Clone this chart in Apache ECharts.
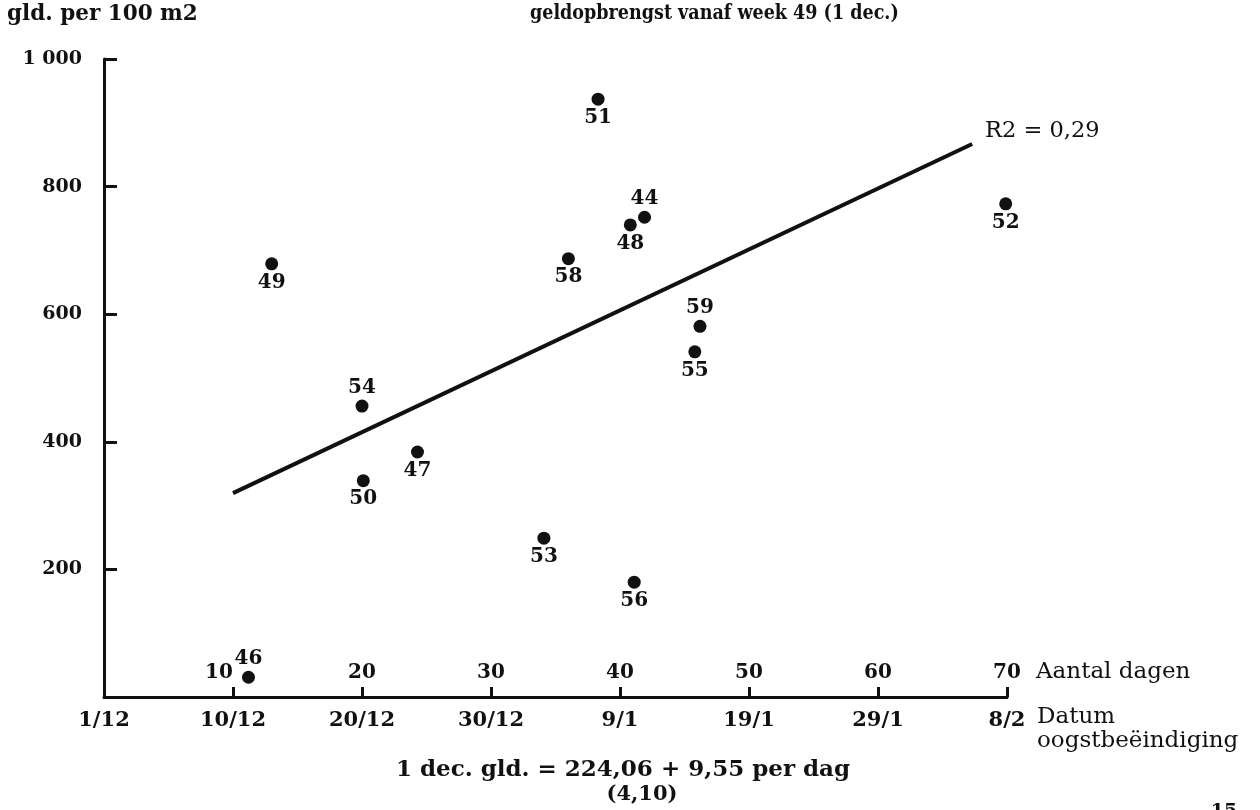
<!DOCTYPE html>
<html>
<head>
<meta charset="utf-8">
<script src="https://cdn.jsdelivr.net/npm/echarts@6/dist/echarts.min.js"></script>
<style>
  html, body { margin: 0; padding: 0; background: #fff; }
  #chart { width: 1260px; height: 810px; }
</style>
</head>
<body>
<div id="chart"></div>
<script>
// Plantnummers, aantal dagen na 1 december en geldopbrengst (gld. per 100 m2)
const plantIds = ['46', '49', '54', '50', '47', '53', '58', '51', '48', '44', '56', '59', '55', '57', '52'];
const days     = [11.2, 13.0, 20.0, 20.1, 24.3, 34.1, 36.0, 38.3, 40.8, 41.9, 41.1, 46.2, 45.8, 53.2, 69.9];
const revenue  = [31, 679, 456, 339, 384, 249, 687, 937, 740, 752, 180, 581, 541, 1011, 773];

// Nummers die boven hun punt staan
const labelsAbove = ['46', '54', '44', '59'];

// Regressielijn: gld. = 224,06 + 9,55 per dag
const intercept = 224.06;
const slope = 9.55;
const lineDays = [10, 67.3];

// As-labels
const dayTicks = [10, 20, 30, 40, 50, 60, 70];
const dateTicks = ['1/12', '10/12', '20/12', '30/12', '9/1', '19/1', '29/1', '8/2'];
const yTicks = [200, 400, 600, 800, 1000];

const FONT = 'DejaVu Serif';
const FONT_NARROW = '"DejaVu Serif Condensed", "DejaVu Serif"';
const INK = '#111';

const chart = echarts.init(document.getElementById('chart'), null, { renderer: 'canvas' });

const points = plantIds.map((id, i) => ({
  value: [days[i], revenue[i]],
  name: id,
  label: { position: labelsAbove.includes(id) ? 'top' : 'bottom' }
}));

chart.setOption({
  animation: false,
  backgroundColor: '#fff',
  grid: { left: 104, right: 253, top: 59, bottom: 113, containLabel: false },
  xAxis: [
    {
      // datum oogstbeëindiging onder de as
      type: 'value', min: 0, max: 70, interval: 10, position: 'bottom',
      splitLine: { show: false },
      axisLine: { lineStyle: { color: INK, width: 3 } },
      axisTick: { show: false },
      axisLabel: {
        margin: 13, color: INK, fontFamily: FONT, fontWeight: 'bold', fontSize: 21,
        formatter: v => dateTicks[Math.round(v / 10)] || ''
      }
    },
    {
      // aantal dagen boven de as
      type: 'value', min: 0, max: 70, interval: 10, position: 'bottom',
      splitLine: { show: false },
      axisLine: { show: false },
      axisTick: { show: true, inside: true, length: 10, lineStyle: { color: INK, width: 3 } },
      axisLabel: {
        inside: true, margin: 14, color: INK, fontFamily: FONT, fontWeight: 'bold', fontSize: 20,
        formatter: v => {
          if (!dayTicks.includes(v)) return '';
          return v === dayTicks[0] ? '{l|' + v + '}' : String(v);
        },
        rich: { l: { padding: [0, 28, 0, 0], fontFamily: FONT, fontWeight: 'bold', fontSize: 20, color: INK } }
      }
    }
  ],
  yAxis: {
    type: 'value', min: 0, max: 1000, interval: 200,
    splitLine: { show: false },
    axisLine: { lineStyle: { color: INK, width: 3 } },
    axisTick: { show: true, inside: true, length: 13, lineStyle: { color: INK, width: 3 } },
    axisLabel: {
      margin: 22, color: INK, fontFamily: FONT, fontWeight: 'bold', fontSize: 19,
      formatter: v => yTicks.includes(v) ? (v === 1000 ? '1 000' : String(v)) : ''
    }
  },
  series: [
    {
      type: 'line',
      xAxisIndex: 0,
      data: lineDays.map(d => [d, intercept + slope * d]),
      symbol: 'none',
      lineStyle: { color: INK, width: 4 },
      silent: true,
      z: 2
    },
    {
      type: 'scatter',
      xAxisIndex: 0,
      data: points,
      symbol: 'circle',
      symbolSize: 13,
      itemStyle: { color: INK, opacity: 1 },
      label: {
        show: true, distance: 2, formatter: p => p.name, opacity: 1,
        color: INK, fontFamily: FONT, fontWeight: 'bold', fontSize: 20
      },
      z: 3
    }
  ],
  graphic: [
    { type: 'text', x: 7, y: 14,
      style: { text: 'gld. per 100 m2', fontFamily: FONT, fontWeight: 'bold', fontSize: 21.5, fill: INK,
               verticalAlign: 'middle' } },
    { type: 'text', x: 530, y: 14,
      style: { text: 'geldopbrengst vanaf week 49 (1 dec.)', fontFamily: FONT_NARROW, fontWeight: 'bold', fontSize: 19.5, fill: INK,
               verticalAlign: 'middle' } },
    { type: 'text', x: 985, y: 131,
      style: { text: 'R2 = 0,29', fontFamily: FONT, fontSize: 22.5, fill: INK, verticalAlign: 'middle' } },
    { type: 'text', x: 1036, y: 672,
      style: { text: 'Aantal dagen', fontFamily: FONT, fontSize: 23, fill: INK, verticalAlign: 'middle' } },
    { type: 'text', x: 1037, y: 705,
      style: { text: 'Datum\noogstbeëindiging', fontFamily: FONT, fontSize: 23, lineHeight: 24, fill: INK } },
    { type: 'text', x: 623, y: 770,
      style: { text: '1 dec. gld. = 224,06 + 9,55 per dag', fontFamily: FONT, fontWeight: 'bold', fontSize: 23,
               fill: INK, align: 'center', verticalAlign: 'middle' } },
    { type: 'text', x: 642, y: 795,
      style: { text: '(4,10)', fontFamily: FONT, fontWeight: 'bold', fontSize: 21,
               fill: INK, align: 'center', verticalAlign: 'middle' } },
    { type: 'text', x: 1224, y: 812,
      style: { text: '15', fontFamily: FONT, fontWeight: 'bold', fontSize: 19,
               fill: INK, align: 'center', verticalAlign: 'middle' } }
  ]
});
</script>
</body>
</html>
